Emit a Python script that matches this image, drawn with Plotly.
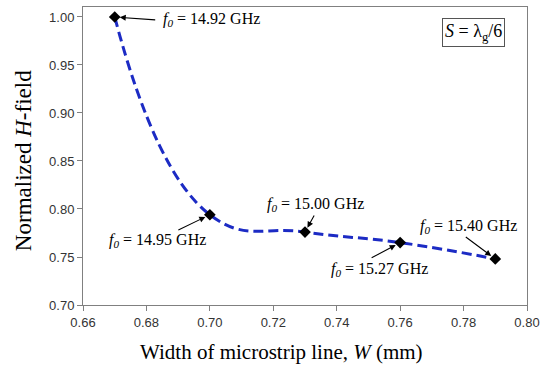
import plotly.graph_objects as go

width_mm = [0.67, 0.70, 0.73, 0.76, 0.79]
h_field = [1.000, 0.794, 0.776, 0.765, 0.748]
freq_labels = ["14.92", "14.95", "15.00", "15.27", "15.40"]
x_ticks = [0.66, 0.68, 0.70, 0.72, 0.74, 0.76, 0.78, 0.80]
y_ticks = [0.70, 0.75, 0.80, 0.85, 0.90, 0.95, 1.00]

serif = "Liberation Serif, Times New Roman, serif"
sans = "Liberation Sans, Arial, sans-serif"

fig = go.Figure()
fig.add_trace(go.Scatter(
    x=width_mm, y=h_field, mode="lines",
    line=dict(color="#1c2bc4", width=3, dash="10px,5px", shape="spline", smoothing=1.3),
    hoverinfo="skip", showlegend=False))
fig.add_trace(go.Scatter(
    x=width_mm, y=h_field, mode="markers",
    marker=dict(symbol="diamond", size=9, color="black"),
    showlegend=False))

# label offsets (pixels from point to text center) and arrow tail offsets
label_off = [(97, 3), (-52, 26), (10, -28), (-21, 27), (-27, -32)]
arrow_off = [(42, 3), (-33, 16), (10, -18), (-30, 16), (-31, -23)]

for i, (xv, yv) in enumerate(zip(width_mm, h_field)):
    lx, ly = label_off[i]
    fig.add_annotation(x=xv, y=yv, xref="x", yref="y", showarrow=False,
                       xshift=lx, yshift=-ly,
                       text=f"<i>f</i><sub><i>0</i></sub> = {freq_labels[i]} GHz",
                       font=dict(family=serif, size=16, color="black"))
    axx, ayy = arrow_off[i]
    fig.add_annotation(x=xv, y=yv, xref="x", yref="y", showarrow=True, text="",
                       ax=axx, ay=ayy, arrowhead=2, arrowsize=1.1, arrowwidth=1.1,
                       arrowcolor="black", standoff=5)

fig.add_annotation(x=0.950, y=0.963, xref="paper", yref="paper", xanchor="right", yanchor="top",
                   showarrow=False, text="<i>S</i> = λ<sub>g</sub>/6",
                   font=dict(family=serif, size=18, color="black"),
                   bordercolor="#555555", borderwidth=1, borderpad=2, bgcolor="white")

# axis titles
fig.add_annotation(x=0.446, y=-0.158, xref="paper", yref="paper", xanchor="center", yanchor="middle",
                   showarrow=False, text="Width of microstrip line, <i>W</i> (mm)",
                   font=dict(family=serif, size=21, color="black"))
fig.add_annotation(x=-0.135, y=0.483, xref="paper", yref="paper", xanchor="center", yanchor="middle",
                   showarrow=False, text="Normalized <i>H</i>-field", textangle=-90,
                   font=dict(family=serif, size=23, color="black"))

fig.update_layout(
    width=542, height=373,
    margin=dict(l=83, r=15, t=7, b=68, autoexpand=False),
    paper_bgcolor="white", plot_bgcolor="white",
    xaxis=dict(range=[0.66, 0.80], tickvals=x_ticks, ticktext=[f"{v:.2f}" for v in x_ticks],
               automargin=False,
               showgrid=False, zeroline=False, showline=True, linecolor="#808080", linewidth=1,
               mirror=True, ticks="outside", ticklen=5, tickcolor="#808080",
               tickfont=dict(family=sans, size=13, color="#333333")),
    yaxis=dict(range=[0.70, 1.0104], tickvals=y_ticks, ticktext=[f"{v:.2f}" for v in y_ticks],
               automargin=False,
               showgrid=False, zeroline=False, showline=True, linecolor="#808080", linewidth=1,
               mirror=True, ticks="outside", ticklen=5, tickcolor="#808080",
               tickfont=dict(family=sans, size=13, color="#333333")),
)

fig.write_html("out.html", config={"displayModeBar": False},
               post_script="document.body.style.margin='0';")
